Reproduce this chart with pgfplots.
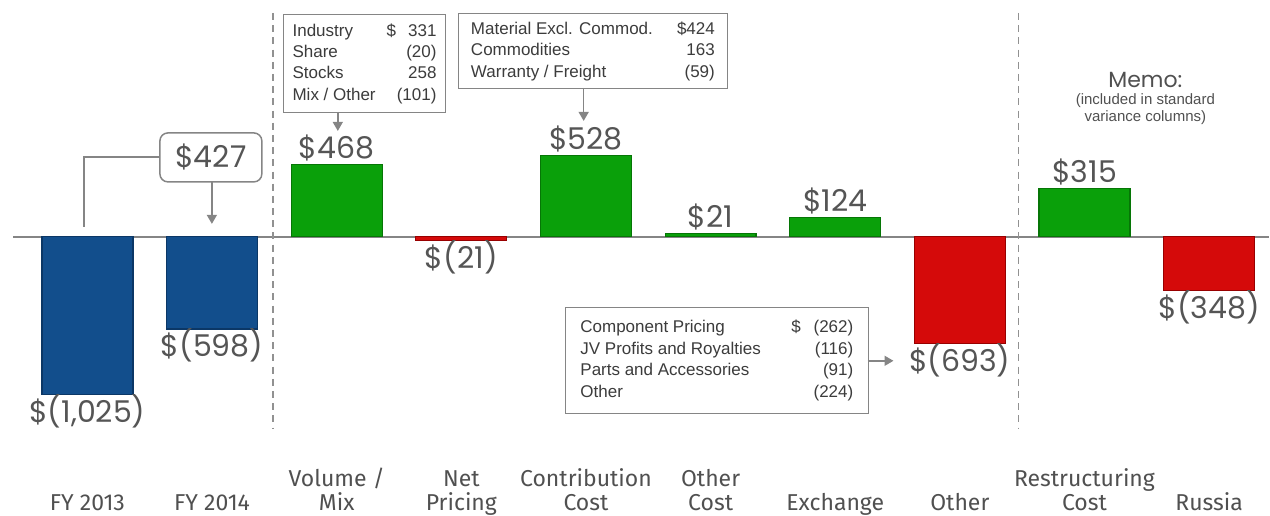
\documentclass[border=0pt]{standalone}
\usepackage{fontspec}
\setmainfont{Liberation Sans}
\newfontfamily\valfont{Poppins}
\newfontfamily\catfont{Fira Sans}
\usepackage{pgfplots}
\pgfplotsset{compat=1.18}
\usetikzlibrary{arrows.meta}

\definecolor{barblue}{HTML}{124E8C}
\definecolor{barblueD}{HTML}{0B3766}
\definecolor{bargreen}{HTML}{0AA00A}
\definecolor{bargreenD}{HTML}{067606}
\definecolor{barred}{HTML}{D50A0A}
\definecolor{barredD}{HTML}{980000}
\definecolor{valgray}{HTML}{555555}
\definecolor{textgray}{HTML}{505050}
\definecolor{boxtext}{HTML}{3C3C3C}
\definecolor{linegray}{HTML}{858585}

% bottom strut for category labels, so every label sits on the same baseline
\newcommand\lstrut{\rule[-2.6pt]{0pt}{2.6pt}}

% 1 px of the reference = 0.5pt
\tikzset{
  conn/.style={draw=linegray, line width=0.75pt},
  arr/.style={-{Triangle[width=5pt,length=4.5pt]}},
  divider/.style={draw=linegray!90, line width=0.8pt, dash pattern=on 3.5pt off 2.6pt},
  infobox/.style={draw=linegray, line width=0.75pt, fill=white, inner sep=0pt,
    text=boxtext, align=left, font=\fontsize{8.5}{10.75}\selectfont},
}

\begin{document}
\begin{tikzpicture}
\begin{axis}[
  scale only axis, width=635pt, height=258pt,
  xmin=-0.7017, xmax=9.4828, ymin=-1810.5, ymax=1538,
  axis line style={draw=none}, tick style={draw=none},
  ytick=\empty,
  xtick={0,...,9},
  xticklabels={{FY 2013\lstrut},{FY 2014\lstrut},{Volume /\\Mix\lstrut},{Net\\Pricing\lstrut},
    {Contribution\\Cost\lstrut},{Other\\Cost\lstrut},{Exchange\lstrut},{Other\lstrut},
    {Restructuring\\Cost\lstrut},{Russia\lstrut}},
  xticklabel style={anchor=south, inner sep=0pt, align=center, text=textgray,
    font=\catfont\fontsize{11.5}{12}\selectfont},
  clip=false,
  point meta=explicit symbolic,
  nodes near coords,
  every node near coord/.append style={font=\valfont\fontsize{15}{15}\selectfont,
    text=valgray, inner sep=0pt},
  every axis plot/.append style={ybar, bar width=45.5pt, bar shift=0pt, line width=0.6pt},
]
\draw[linegray, line width=0.75pt] (axis cs:-0.597,0) -- (axis cs:9.4828,0);

% FY totals
\addplot[fill=barblue, draw=barblueD,
  every node near coord/.append style={anchor=base, yshift=-14pt}]
  coordinates {(0,-1025) [{\$(1,025)}] (1,-598) [{\$(598)}]};
% favourable
\addplot[fill=bargreen, draw=bargreenD,
  every node near coord/.append style={anchor=base, yshift=3pt}]
  coordinates {(2,468) [{\$468}] (4,528) [{\$528}] (5,21) [{\$21}]
               (6,124) [{\$124}] (8,315) [{\$315}]};
% unfavourable
\addplot[fill=barred, draw=barredD,
  every node near coord/.append style={anchor=base, yshift=-14pt}]
  coordinates {(3,-21) [{\$(21)}] (7,-693) [{\$(693)}] (9,-348) [{\$(348)}]};
\end{axis}

\begin{scope}[shift={(0pt,258pt)}, x=0.5pt, y=-0.5pt]
  \draw[divider] (273,13) -- (273,428);
  \draw[divider] (1019,13) -- (1019,428);

  % FY 2013 -> FY 2014 change
  \draw[conn] (84,227) -- (84,157) -- (160,157);
  \node[draw=linegray, line width=0.75pt, rounded corners=4pt, fill=white,
    minimum width=51pt, minimum height=24.5pt, inner sep=0pt,
    text=valgray, font=\valfont\fontsize{15}{15}\selectfont] at (211,157.5) {\$427};
  \draw[conn, arr] (212,182) -- (212,224);

  % Volume / Mix detail
  \node[infobox, anchor=north west, minimum width=81pt, minimum height=49pt] at (283,14)
    {\makebox[47pt][l]{Industry}\rlap{\$}\makebox[25pt][r]{331}\\
     \makebox[47pt][l]{Share}\makebox[25pt][r]{(20)}\\
     \makebox[47pt][l]{Stocks}\makebox[25pt][r]{258}\\
     \makebox[47pt][l]{Mix / Other}\makebox[25pt][r]{(101)}};
  \draw[conn, arr] (338,112) -- (338,131);

  % Contribution cost detail
  \node[infobox, anchor=north west, minimum width=134.5pt, minimum height=37.5pt] at (458,13)
    {\makebox[101pt][l]{Material Excl. Commod.}\makebox[21pt][r]{\$424}\\
     \makebox[101pt][l]{Commodities}\makebox[21pt][r]{163}\\
     \makebox[101pt][l]{Warranty / Freight}\makebox[21pt][r]{(59)}};
  \draw[conn, arr] (584,88) -- (584,121);

  % Other detail
  \node[infobox, anchor=north west, minimum width=151.5pt, minimum height=53pt] at (565,307)
    {\makebox[105.5pt][l]{Component Pricing}\rlap{\$}\makebox[31pt][r]{(262)}\\
     \makebox[105.5pt][l]{JV Profits and Royalties}\makebox[31pt][r]{(116)}\\
     \makebox[105.5pt][l]{Parts and Accessories}\makebox[31pt][r]{(91)}\\
     \makebox[105.5pt][l]{Other}\makebox[31pt][r]{(224)}};
  \draw[conn, arr] (868,361) -- (894,361);

  % Memo heading
  \node[anchor=base, text=textgray, font=\valfont\fontsize{11}{12}\selectfont] at (1146,88) {Memo:};
  \node[anchor=base, text=textgray, font=\fontsize{7.5}{9}\selectfont] at (1146,105) {(included in standard};
  \node[anchor=base, text=textgray, font=\fontsize{7.5}{9}\selectfont] at (1146,122) {variance columns)};
\end{scope}
\end{tikzpicture}
\end{document}
